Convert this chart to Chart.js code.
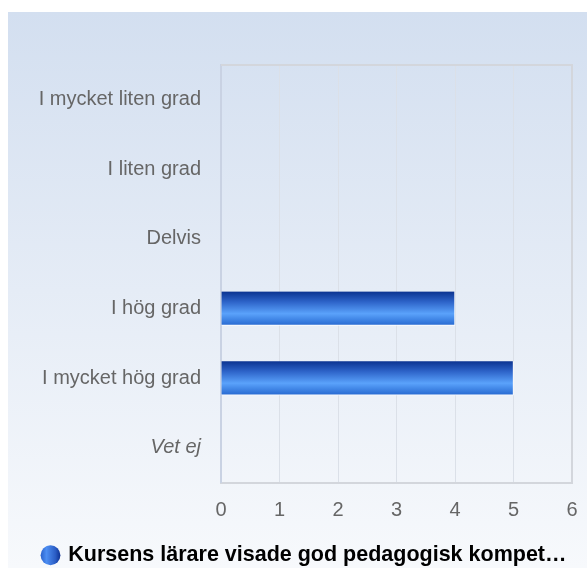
<!DOCTYPE html>
<html lang="sv">
<head>
  <meta charset="UTF-8">
  <title>Kursens lärare</title>
  <script src="https://cdn.jsdelivr.net/npm/chart.js"></script>
  <style>
    html, body { margin: 0; padding: 0; background: #ffffff; }
    #wrap { width: 587px; height: 568px; }
  </style>
</head>
<body>
<div id="wrap"><canvas id="chart"></canvas></div>

<script>
  const categories = ["I mycket liten grad", "I liten grad", "Delvis", "I hög grad", "I mycket hög grad", "Vet ej"];
  const counts = [0, 0, 0, 4, 5, 0];
  const seriesName = "Kursens lärare visade god pedagogisk kompet…";
  const xTicks = [0, 1, 2, 3, 4, 5, 6];

  const FONT = "'Liberation Sans', Arial, sans-serif";
  const BAR_H = 34;
  const PAD_LEFT = 38;

  // light blue panel fading to white behind the whole chart
  const panelBg = {
    id: "panelBg",
    beforeDraw(chart) {
      const ctx = chart.ctx;
      const g = ctx.createLinearGradient(0, 12, 0, chart.height);
      g.addColorStop(0, "#d3dff0");
      g.addColorStop(1, "#f7f9fc");
      ctx.save();
      ctx.fillStyle = g;
      ctx.fillRect(8, 12, chart.width - 8, chart.height - 12);
      ctx.restore();

      // legend marker: horizontal shaded ball, needs the final legend position
      const lg = chart.legend;
      if (lg && lg.legendHitBoxes && lg.legendHitBoxes.length) {
        const hb = lg.legendHitBoxes[0];
        const gr = ctx.createLinearGradient(hb.left - 3, 0, hb.left + 17, 0);
        gr.addColorStop(0, "#2a62cc");
        gr.addColorStop(0.3, "#4d8ef2");
        gr.addColorStop(0.75, "#2a5cc4");
        gr.addColorStop(1, "#0c2f90");
        lg.legendItems[0].fillStyle = gr;
      }
    }
  };

  // grey frame on top and right of the plot area
  const plotFrame = {
    id: "plotFrame",
    beforeDatasetsDraw(chart) {
      const a = chart.chartArea, ctx = chart.ctx;
      ctx.save();
      ctx.strokeStyle = "#d3d6dc";
      ctx.lineWidth = 2;
      ctx.beginPath();
      ctx.moveTo(a.left, a.top);
      ctx.lineTo(a.right, a.top);
      ctx.lineTo(a.right, a.bottom);
      ctx.stroke();
      ctx.restore();
    }
  };

  function barFill(c) {
    const chart = c.chart;
    if (!chart.chartArea || !chart.scales.y) return "#2f6fd6";
    const y = chart.scales.y.getPixelForValue(c.dataIndex);
    const g = chart.ctx.createLinearGradient(0, y - BAR_H / 2, 0, y + BAR_H / 2);
    g.addColorStop(0, "#0b3390");
    g.addColorStop(0.3, "#2d63c8");
    g.addColorStop(0.65, "#5aa2fb");
    g.addColorStop(1, "#2668d0");
    return g;
  }

  const el = document.getElementById("chart");
  const chart = new Chart(el, {
    type: "bar",
    data: {
      labels: categories,
      datasets: [{
        label: seriesName,
        data: counts,
        backgroundColor: barFill,
        borderColor: "#ffffff",
        borderWidth: { top: 0, left: 0, right: 1, bottom: 1 },
        borderSkipped: false,
        barThickness: BAR_H
      }]
    },
    plugins: [panelBg, plotFrame],
    options: {
      indexAxis: "y",
      responsive: true,
      maintainAspectRatio: false,
      animation: false,
      layout: { padding: { left: PAD_LEFT, right: 15, top: 65, bottom: -8 } },
      scales: {
        x: {
          min: 0,
          max: 6,
          afterBuildTicks(axis) { axis.ticks = xTicks.map(v => ({ value: v })); },
          afterFit(axis) {
            axis.height = 58;
            axis.paddingRight = 15;
          },
          grid: { color: "#dbe0e8", drawTicks: false },
          border: { color: "#d3d6dc", width: 2 },
          ticks: { color: "#666666", padding: 16, font: { family: FONT, size: 20 } }
        },
        y: {
          grid: { display: false },
          border: { color: "#c9d2e3", width: 2 },
          afterFit(axis) { axis.width = 221 - PAD_LEFT; },
          ticks: {
            color: "#666666",
            padding: 12,
            font: c => ({ family: FONT, size: 20, style: c.index === 5 ? "italic" : "normal" })
          }
        }
      },
      plugins: {
        tooltip: { enabled: false },
        legend: {
          position: "bottom",
          labels: {
            usePointStyle: true,
            pointStyle: "circle",
            boxWidth: 14,
            boxHeight: 14,
            color: "#333333",
            padding: 4,
            font: { family: FONT, size: 21.5, weight: "bold" },
            generateLabels() {
              return [{
                text: seriesName,
                fillStyle: "#2a62cc",
                strokeStyle: "#2466cc",
                lineWidth: 0,
                pointStyle: "circle",
                hidden: false,
                datasetIndex: 0
              }];
            }
          }
        }
      }
    }
  });
</script>
</body>
</html>
